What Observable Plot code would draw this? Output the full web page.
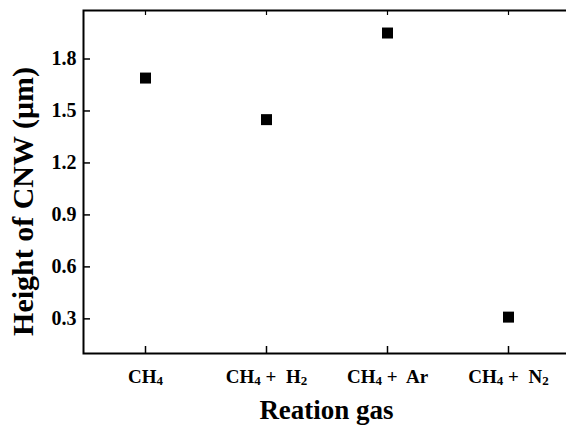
<!DOCTYPE html>
<html><head><meta charset="utf-8">
<script src="https://cdn.jsdelivr.net/npm/d3@7"></script>
<script src="https://cdn.jsdelivr.net/npm/@observablehq/plot@0.6"></script>
<style>html,body{margin:0;padding:0;overflow:hidden;background:#fff}</style>
</head><body><div id="chart"></div>
<script>
const gases = ["CH₄", "CH₄ +  H₂", "CH₄ +  Ar", "CH₄ +  N₂"];
const heights = [1.69, 1.45, 1.95, 0.31];
const yTicks = [0.3, 0.6, 0.9, 1.2, 1.5, 1.8];
const xTitle = "Reation gas";
const yTitle = "Height of CNW (μm)";

const data = gases.map((g, i) => ({gas: g, height: heights[i]}));
const font = '"Liberation Serif", "Times New Roman", serif';

const chart = Plot.plot({
  width: 566, height: 426,
  marginTop: 10, marginBottom: 73, marginLeft: 83, marginRight: -3,
  style: {fontFamily: font, fontWeight: "bold", background: "#fff", color: "#000"},
  x: {type: "point", domain: gases, padding: 0.5},
  y: {domain: [0.1, 2.08]},
  marks: [
    Plot.frame({stroke: "#000", strokeWidth: 2}),
    Plot.axisY({ticks: yTicks, tickSize: -7, tickPadding: 14, tickFormat: d => d.toFixed(1), fontSize: 20, fontWeight: "bold", label: null, strokeWidth: 1.5}),
    Plot.axisX({anchor: "bottom", tickSize: -7, tickFormat: null, label: null, strokeWidth: 1.5}),
    Plot.axisX({anchor: "bottom", tickSize: 0, tickPadding: 16, fontSize: 19, fontWeight: "bold", label: null}),
    Plot.axisX({anchor: "top", tickSize: -4, tickFormat: null, label: null, strokeWidth: 1.2}),
    Plot.dot(data, {x: "gas", y: "height", symbol: "square", r: 6.2, fill: "#000", stroke: null}),
    Plot.text([xTitle], {frameAnchor: "bottom", lineAnchor: "top", dy: 46, fontSize: 27, fontWeight: "bold"}),
    Plot.text([yTitle], {frameAnchor: "left", textAnchor: "middle", rotate: -90, dx: -60.5, dy: 19.5, fontSize: 30, fontWeight: "bold"})
  ]
});

// render subscript digits as real smaller, lowered text
const svgns = "http://www.w3.org/2000/svg";
const subMap = {"₀":"0","₁":"1","₂":"2","₃":"3","₄":"4","₅":"5","₆":"6","₇":"7","₈":"8","₉":"9"};
chart.querySelectorAll('g[aria-label="x-axis tick label"] text').forEach(t => {
  const s = t.textContent;
  t.textContent = "";
  t.style.whiteSpace = "pre";
  let shifted = false;
  (s.match(/[₀-₉]+|[^₀-₉]+/g) || []).forEach(p => {
    const sp = document.createElementNS(svgns, "tspan");
    if (/[₀-₉]/.test(p)) {
      sp.textContent = p.replace(/[₀-₉]/g, c => subMap[c]);
      sp.setAttribute("font-size", "13");
      sp.setAttribute("dy", "2");
      shifted = true;
    } else {
      sp.textContent = p;
      if (shifted) { sp.setAttribute("dy", "-2"); shifted = false; }
    }
    t.appendChild(sp);
  });
});
document.getElementById("chart").appendChild(chart);
</script>
</body></html>
